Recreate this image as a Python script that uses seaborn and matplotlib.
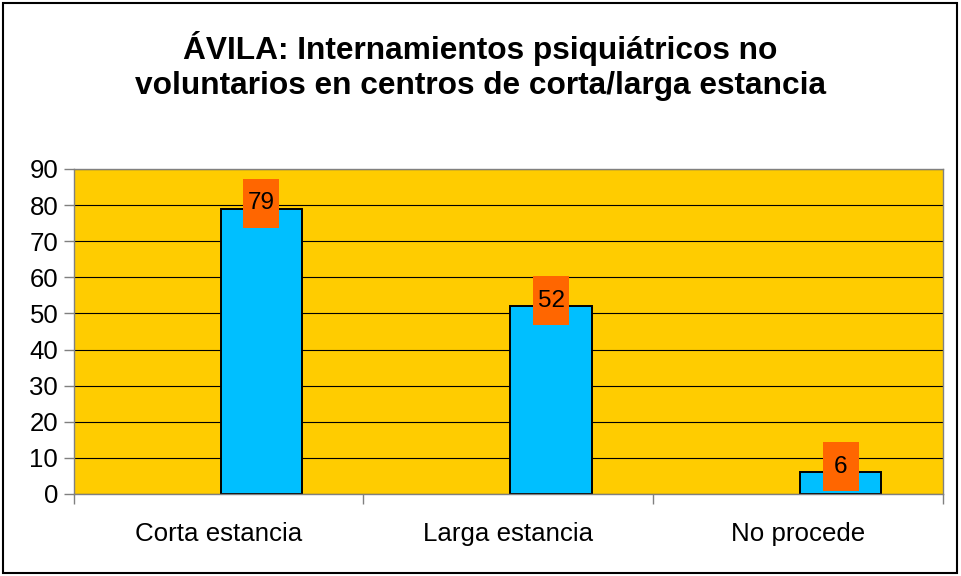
import matplotlib
matplotlib.use("Agg")
import matplotlib.pyplot as plt
from matplotlib.patches import Rectangle
import numpy as np
import pandas as pd
import seaborn as sns

categories = ["Corta estancia", "Larga estancia", "No procede"]
values = [79, 52, 6]
y_ticks = [0, 10, 20, 30, 40, 50, 60, 70, 80, 90]
title_lines = ["ÁVILA: Internamientos psiquiátricos no",
               "voluntarios en centros de corta/larga estancia"]

sns.set_theme(style="white")
plt.rcParams["font.family"] = ["Liberation Sans", "DejaVu Sans"]
plt.rcParams["text.color"] = "black"
plt.rcParams["xtick.color"] = "black"
plt.rcParams["ytick.color"] = "black"

fig = plt.figure(figsize=(9.61, 5.76), dpi=100)
ax = fig.add_axes([0.0765, 0.1424, 0.9045, 0.5642])
ax.set_facecolor("#FFCC00")

# bars sit slightly right of the category centre
offset = 0.148
pos = np.arange(len(categories)) + offset
df = pd.DataFrame({"pos": pos, "value": values})
sns.barplot(data=df, x="pos", y="value", native_scale=True, width=0.28,
            color="#00BFFF", saturation=1, edgecolor="black", linewidth=1.4,
            ax=ax, zorder=3)

ax.set_xlim(-0.5, len(categories) - 0.5)
ax.set_ylim(0, 90)
ax.set_yticks(y_ticks)
ax.yaxis.grid(True, color="black", linewidth=0.8, zorder=1)
ax.set_axisbelow(True)

# category boundaries as ticks, names centred between them
ax.set_xticks(np.arange(len(categories) + 1) - 0.5)
ax.set_xticklabels([])
ax.set_xticks(np.arange(len(categories)), minor=True)
ax.set_xticklabels(categories, minor=True, fontsize=18.6)
ax.tick_params(axis="x", which="major", length=7, width=1, color="#808080",
               direction="out", bottom=True)
ax.tick_params(axis="x", which="minor", length=0, pad=20, labelcolor="black")
ax.tick_params(axis="y", length=7, width=1, color="#808080", direction="out",
               left=True, labelsize=18.5, pad=4, labelcolor="black")
ax.set_xlabel("")
ax.set_ylabel("")
for s in ax.spines.values():
    s.set_color("#808080")
    s.set_linewidth(1)
    s.set_zorder(4)

# value labels on orange boxes
box_w, box_h = 0.124, 13.6
for p, v in zip(pos, values):
    cy = v + 1.5
    ax.add_patch(Rectangle((p - box_w / 2, cy - box_h / 2), box_w, box_h,
                           facecolor="#FF6600", edgecolor="none", zorder=5,
                           clip_on=False))
    ax.text(p, cy, str(v), ha="center", va="center", fontsize=17.5,
            color="black", zorder=6)

fig.text(0.5, 1 - 48 / 576, title_lines[0], ha="center", va="center",
         fontsize=22.8, fontweight="bold", color="black")
fig.text(0.5, 1 - 86 / 576, title_lines[1], ha="center", va="center",
         fontsize=22.8, fontweight="bold", color="black")

fig.add_artist(Rectangle((3 / 961, 3 / 576), 954 / 961, 570 / 576,
                         transform=fig.transFigure, fill=False,
                         edgecolor="black", linewidth=1.5))

fig.savefig("out.png", dpi=100)
